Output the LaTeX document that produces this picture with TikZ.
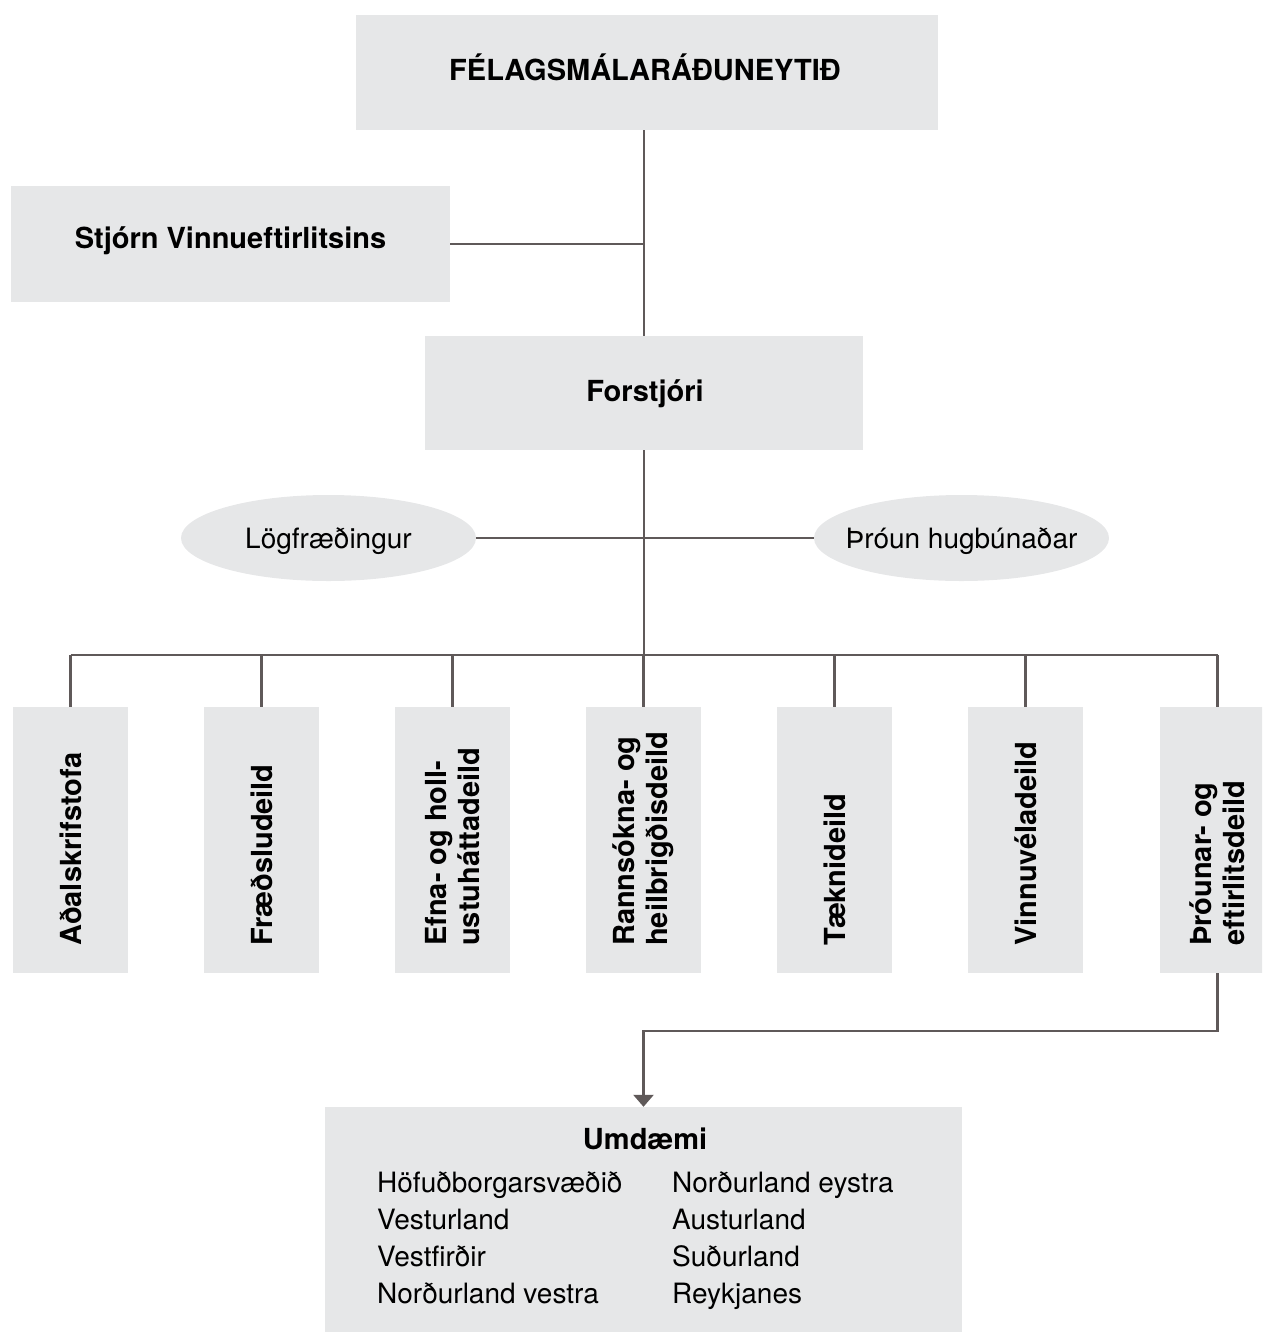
\documentclass[tikz,border=0pt]{standalone}
\usepackage{fontspec}
\setmainfont{TeX Gyre Heros}
\usetikzlibrary{shapes.geometric,arrows.meta}
\definecolor{boxgray}{HTML}{E6E7E8}
\definecolor{linegray}{HTML}{5F5959}
\begin{document}
\begin{tikzpicture}[x=1pt,y=-1pt,
  box/.style={fill=boxgray, draw=none, inner sep=0pt},
  btext/.style={anchor=base, inner sep=0pt, font=\fontsize{29}{33}\selectfont\bfseries},
  otext/.style={anchor=base, inner sep=0pt, font=\fontsize{28}{32}\selectfont},
  oval/.style={ellipse, fill=boxgray, draw=none, inner sep=0pt, minimum width=295, minimum height=86},
  vbox/.style={fill=boxgray, draw=none, minimum width=115, minimum height=266, inner sep=0pt},
  vlabel/.style={rotate=90, anchor=west, inner sep=0pt, align=left, font=\fontsize{29}{33}\selectfont\bfseries},
  conn/.style={draw=linegray, line width=2.6pt},
  item/.style={anchor=base west, inner sep=0pt, font=\fontsize{28}{32}\selectfont}]
\useasboundingbox (0,0) rectangle (1262,1334);
\clip (0,0) rectangle (1262,1334);

% boxes
\node[box, minimum width=582, minimum height=115] (min) at (647,72.5) {};
\node[btext] (mint) at (645,80.5) {FÉLAGSMÁLARÁÐUNEYTIÐ};
\node[box, minimum width=439, minimum height=116] (stj) at (230.5,244) {};
\node[btext] (stjt) at (230.5,248.5) {Stjórn Vinnueftirlitsins};
\node[box, minimum width=438, minimum height=114] (fors) at (644,393) {};
\node[btext] (forst) at (645,401.5) {Forstjóri};
\node[oval] (law) at (328.5,538) {};
\node[otext] (lawt) at (328.5,548) {Lögfræðingur};
\node[oval] (dev) at (961.5,538) {};
\node[otext] (devt) at (961.5,548) {Þróun hugbúnaðar};

\node[vbox] (d1) at (70.5,840) {};
\node[vbox] (d2) at (261.5,840) {};
\node[vbox] (d3) at (452.5,840) {};
\node[vbox] (d4) at (643.5,840) {};
\node[vbox] (d5) at (834.5,840) {};
\node[vbox] (d6) at (1025.5,840) {};
\node[vbox] (d7) at (1217.5,840) {};

\node[vlabel] (t1) at (70.5,946) {Aðalskrifstofa};
\node[vlabel] (t2) at (261.5,946) {Fræðsludeild};
\node[vlabel] (t3) at (452.5,946) {Efna- og holl-\\ustuháttadeild};
\node[vlabel] (t4) at (643.5,946) {Rannsókna- og\\heilbrigðisdeild};
\node[vlabel] (t5) at (834.5,946) {Tæknideild};
\node[vlabel] (t6) at (1025.5,946) {Vinnuvéladeild};
\node[vlabel] (t7) at (1217.5,946) {Þróunar- og\\eftirlitsdeild};

\node[box, minimum width=637, minimum height=225] (umd) at (643.5,1219.5) {};
\node[btext] (umdt) at (645,1149) {Umdæmi};
\node[item] (u1) at (377,1192) {Höfuðborgarsvæðið};
\node[item] (u2) at (377,1229) {Vesturland};
\node[item] (u3) at (377,1266) {Vestfirðir};
\node[item] (u4) at (377,1303) {Norðurland vestra};
\node[item] (u5) at (672,1192) {Norðurland eystra};
\node[item] (u6) at (672,1229) {Austurland};
\node[item] (u7) at (672,1266) {Suðurland};
\node[item] (u8) at (672,1303) {Reykjanes};

% connectors
\coordinate (bus) at (644,655);
\coordinate (turn) at (1217.5,1031);
\draw[conn] (fors.north |- min.south) -- (fors.north);
\draw[conn] (stj.east) -- (stj.east -| fors.north);
\draw[conn] (fors.south) -- (bus);
\draw[conn] (law.east) -- (dev.west);
\draw[conn] (d1.north |- bus) -- (d7.north |- bus);
\foreach \d in {d1,d2,d3,d4,d5,d6,d7} {\draw[conn] (\d.north) -- (\d.north |- bus);}
\draw[conn, -{Triangle[width=20pt,length=12pt]}] (d7.south) -- (turn) -| (umd.north);
\end{tikzpicture}
\end{document}
